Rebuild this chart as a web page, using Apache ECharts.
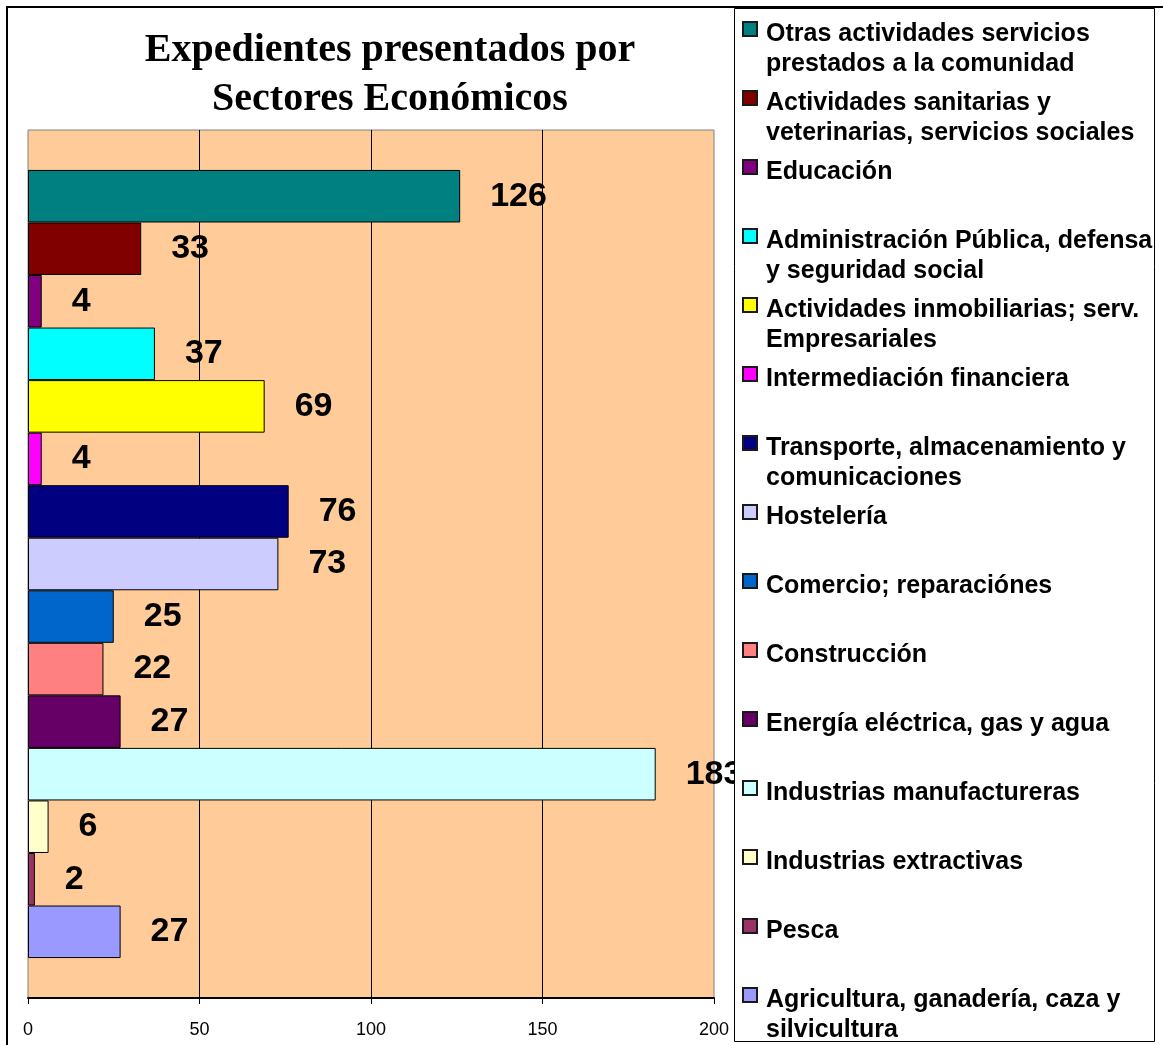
<!DOCTYPE html>
<html lang="es">
<head>
  <meta charset="UTF-8">
  <meta name="viewport" content="width=device-width, initial-scale=1.0">
  <title>Expedientes presentados por Sectores Económicos</title>
  <script src="https://cdn.jsdelivr.net/npm/echarts@6.0.0/dist/echarts.min.js"></script>
  <style>
    html, body {
      margin: 0;
      padding: 0;
      background-color: #fff;
    }
    #chart {
      width: 1163px;
      height: 1045px;
    }
  </style>
</head>
<body>
  <div id="chart"></div>

  <script>
    // Sectores, de arriba a abajo (igual que la leyenda)
    var sectores = [
      'Otras actividades servicios\nprestados a la comunidad',
      'Actividades sanitarias y\nveterinarias, servicios sociales',
      'Educación',
      'Administración Pública, defensa\ny seguridad social',
      'Actividades inmobiliarias; serv.\nEmpresariales',
      'Intermediación financiera',
      'Transporte, almacenamiento y\ncomunicaciones',
      'Hostelería',
      'Comercio; reparaciónes',
      'Construcción',
      'Energía eléctrica, gas y agua',
      'Industrias manufactureras',
      'Industrias extractivas',
      'Pesca',
      'Agricultura, ganadería, caza y\nsilvicultura'
    ];

    // Número de expedientes por sector
    var expedientes = [126, 33, 4, 37, 69, 4, 76, 73, 25, 22, 27, 183, 6, 2, 27];

    // Colores de cada barra
    var colores = [
      '#008080', '#800000', '#800080', '#00FFFF', '#FFFF00',
      '#FF00FF', '#000080', '#CCCCFF', '#0066CC', '#FF8080',
      '#660066', '#CCFFFF', '#FFFFCC', '#993366', '#9999FF'
    ];

    // Eje de valores
    var ejeMin = 0;
    var ejeMax = 200;
    var ejePaso = 50;

    var chart = echarts.init(document.getElementById('chart'));

    // una serie por sector, todas en la misma categoría
    var series = sectores.map(function (nombre, i) {
      return {
        name: nombre,
        type: 'bar',
        data: [expedientes[i]],
        barGap: '0%',
        barCategoryGap: '9.2%',
        itemStyle: {
          color: colores[i],
          borderColor: '#000',
          borderWidth: 1
        },
        label: {
          show: true,
          position: 'right',
          distance: 30,
          fontFamily: 'Liberation Sans',
          fontWeight: 'bold',
          fontSize: 34,
          color: '#000'
        }
      };
    });

    chart.setOption({
      animation: false,
      backgroundColor: '#fff',
      title: {
        text: 'Expedientes presentados por\nSectores Económicos',
        left: 390,
        top: 26,
        padding: 0,
        textAlign: 'center',
        textStyle: {
          fontFamily: 'Liberation Serif',
          fontWeight: 'bold',
          fontSize: 40,
          lineHeight: 49,
          color: '#000'
        }
      },
      legend: {
        orient: 'vertical',
        left: 742,
        top: -21,
        height: 2000,
        padding: 0,
        itemWidth: 14,
        itemHeight: 14,
        itemGap: -31,
        icon: 'rect',
        selectedMode: false,
        itemStyle: {
          borderColor: '#1a1a1a',
          borderWidth: 2
        },
        // línea de relleno arriba (más alta) para que el cuadro quede a la altura de la primera línea
        formatter: function (nombre) {
          var texto = nombre.indexOf('\n') < 0 ? nombre + '\n ' : nombre;
          return '{s| }\n' + texto;
        },
        textStyle: {
          fontFamily: 'Liberation Sans',
          fontWeight: 'bold',
          fontSize: 25,
          lineHeight: 30,
          color: '#000',
          padding: [0, 0, 0, 4],
          rich: {
            s: {
              fontSize: 25,
              lineHeight: 40
            }
          }
        }
      },
      grid: {
        left: 28,
        right: 449,
        top: 130,
        bottom: 47,
        show: true,
        backgroundColor: '#FFCC99',
        borderColor: '#808080',
        borderWidth: 1
      },
      xAxis: {
        type: 'value',
        min: ejeMin,
        max: ejeMax,
        interval: ejePaso,
        axisLine: {
          show: true,
          lineStyle: { color: '#000', width: 2 }
        },
        axisTick: {
          show: true,
          length: 6,
          lineStyle: { color: '#000', width: 1 }
        },
        axisLabel: {
          margin: 23,
          fontFamily: 'Liberation Sans',
          fontSize: 18,
          color: '#000'
        },
        splitLine: {
          show: true,
          showMinLine: false,
          showMaxLine: false,
          lineStyle: { color: '#000', width: 1 }
        }
      },
      yAxis: {
        type: 'category',
        data: ['Sectores'],
        show: false
      },
      graphic: [
        // marco exterior
        {
          type: 'rect',
          shape: { x: 7, y: 7, width: 1200, height: 1100 },
          style: { fill: null, stroke: '#000', lineWidth: 2 },
          silent: true
        },
        // caja de la leyenda, tapa la etiqueta 183 y el 200
        {
          type: 'rect',
          z: 3,
          shape: { x: 734.5, y: 8.5, width: 420, height: 1033 },
          style: { fill: '#fff', stroke: '#000', lineWidth: 1 },
          silent: true
        }
      ],
      series: series
    });
  </script>
</body>
</html>
